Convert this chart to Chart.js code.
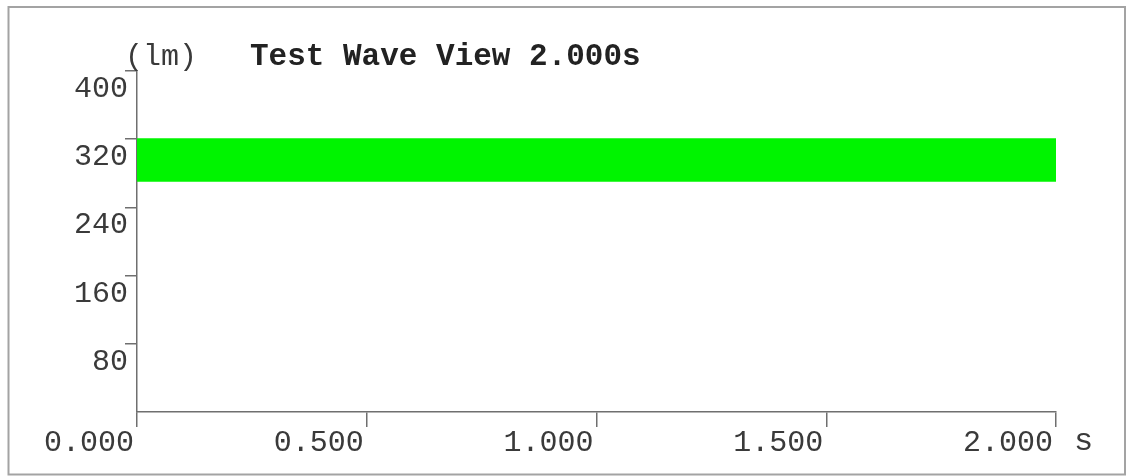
<!DOCTYPE html>
<html>
<head>
<meta charset="utf-8">
<script src="https://cdn.jsdelivr.net/npm/chart.js@4.4.1/dist/chart.umd.min.js"></script>
<style>
  html, body { margin: 0; padding: 0; background: #fff; }
  #wave-chart { display: block; }
</style>
</head>
<body>
<canvas id="wave-chart" width="1130" height="476"></canvas>
<script>
// values
const timeSec = [0, 0.5, 1.0, 1.5, 2.0];
const waveMax = [321, 321, 321, 321, 321];
const waveMin = [270, 270, 270, 270, 270];
const yTicks = [80, 160, 240, 320, 400];
const xTicks = [0, 0.5, 1.0, 1.5, 2.0];
const chartTitle = "Test Wave View 2.000s";
const yUnit = "(lm)";
const xUnit = "s";

const monoFont = "'Liberation Mono', 'DejaVu Sans Mono', monospace";
const axisColor = "#6f6f6f";
const textColor = "#3a3a3a";

const frameAndText = {
    id: "frameAndText",
    beforeDraw(chart) {
        const ctx = chart.ctx;
        ctx.save();
        ctx.fillStyle = "#fff";
        ctx.fillRect(0, 0, chart.width, chart.height);
        ctx.strokeStyle = "#a3a3a3";
        ctx.lineWidth = 2;
        ctx.strokeRect(8.5, 7, 1116.5, 467.5);
        ctx.restore();
    },
    afterDraw(chart) {
        const ctx = chart.ctx;
        const area = chart.chartArea;
        ctx.save();
        ctx.fillStyle = textColor;
        ctx.textBaseline = "alphabetic";
        ctx.textAlign = "left";
        ctx.font = "30px " + monoFont;
        ctx.fillText(yUnit, area.left - 12, area.top - 6);
        ctx.font = "32px " + monoFont;
        ctx.fillText(xUnit, area.right + 18, area.bottom + 38);
        ctx.fillStyle = "#222";
        ctx.font = "bold 31px " + monoFont;
        ctx.fillText(chartTitle, area.left + 113, area.top - 6);
        ctx.restore();
    }
};

const waveCtx = document.getElementById("wave-chart");

if (waveCtx) {
    new Chart(waveCtx, {
        type: "line",
        data: {
            datasets: [
                {
                    label: "max",
                    data: timeSec.map((t, i) => ({x: t, y: waveMax[i]})),
                    borderWidth: 0,
                    pointRadius: 0,
                    backgroundColor: "#00f400",
                    fill: "+1"
                },
                {
                    label: "min",
                    data: timeSec.map((t, i) => ({x: t, y: waveMin[i]})),
                    borderWidth: 0,
                    pointRadius: 0,
                    fill: false
                }
            ]
        },
        options: {
            responsive: false,
            animation: false,
            devicePixelRatio: 1,
            layout: {
                padding: {left: 0, top: 71, right: 74, bottom: 0}
            },
            plugins: {
                legend: {display: false},
                tooltip: {enabled: false}
            },
            scales: {
                x: {
                    type: "linear",
                    min: 0,
                    max: 2,
                    afterBuildTicks: (scale) => {
                        scale.ticks = xTicks.map(v => ({value: v}));
                    },
                    afterFit: (scale) => {
                        scale.height = 64;
                    },
                    border: {display: true, color: axisColor, width: 1.5},
                    grid: {
                        drawOnChartArea: false,
                        drawTicks: true,
                        tickLength: 15,
                        color: axisColor,
                        lineWidth: 1.5
                    },
                    ticks: {
                        align: "end",
                        labelOffset: -3,
                        padding: -2,
                        maxRotation: 0,
                        autoSkip: false,
                        color: textColor,
                        font: {family: monoFont, size: 30},
                        callback: (value) => Number(value).toFixed(3)
                    }
                },
                y: {
                    type: "linear",
                    min: 0,
                    max: 400,
                    afterBuildTicks: (scale) => {
                        scale.ticks = yTicks.map(v => ({value: v}));
                    },
                    afterFit: (scale) => {
                        scale.width = 137;
                    },
                    border: {display: true, color: axisColor, width: 1.5},
                    grid: {
                        drawOnChartArea: false,
                        drawTicks: true,
                        tickLength: 12,
                        color: axisColor,
                        lineWidth: 1.5
                    },
                    ticks: {
                        labelOffset: 18,
                        padding: -3,
                        autoSkip: false,
                        color: textColor,
                        font: {family: monoFont, size: 30},
                        callback: (value) => String(value)
                    }
                }
            }
        },
        plugins: [frameAndText]
    });
} else {
    console.error("Wave chart canvas element not found!");
}
</script>
</body>
</html>
